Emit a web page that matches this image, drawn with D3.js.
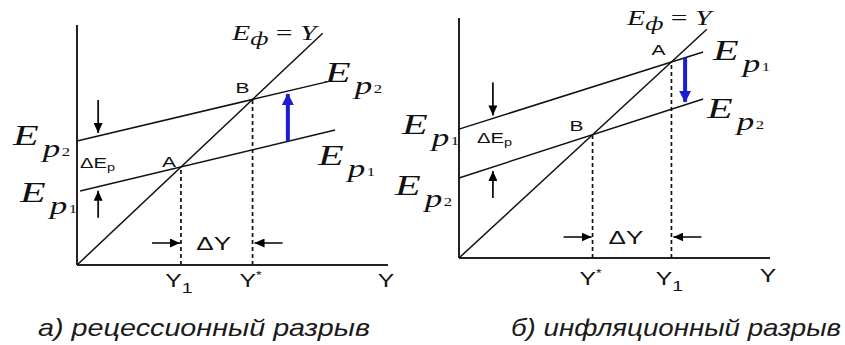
<!DOCTYPE html>
<html>
<head>
<meta charset="utf-8">
<script src="https://cdn.jsdelivr.net/npm/d3@7"></script>
<style>
  body { margin: 0; background: #fff; }
  svg { display: block; }
</style>
</head>
<body>
<div id="chart"></div>
<script>
// ---- data (model units, both axes 0..10) ----
// panel a) recessionary gap
const aDiag = [[0, 0], [7.9, 7.9]];          // E_ф = Y
const aEp1 = [[0.1, 2.52], [8.3, 4.6]];
const aEp2 = [[0, 4.23], [8.1, 6.26]];
const aBlueX = 6.78;                          // shift arrow Ep1 -> Ep2
const aSmallArrowX = 0.68;
// panel б) inflationary gap
const bDiag = [[0, 0], [7.97, 7.97]];
const bEp1 = [[0, 4.49], [7.85, 7.18]];
const bEp2 = [[0, 2.79], [7.85, 5.54]];
const bBlueX = 7.27;                          // shift arrow Ep1 -> Ep2
const bSmallArrowX = 1.09;

const captions = ["а) рецессионный разрыв", "б) инфляционный разрыв"];

const W = 845, H = 345;
const serif = "'Liberation Serif', 'Times New Roman', serif";
const sans = "'Liberation Sans', Arial, sans-serif";
const blue = "#1c1cd6";
const ink = "#111";

const svg = d3.select("#chart").append("svg")
  .attr("width", W).attr("height", H);

const defs = svg.append("defs");
defs.append("marker")
  .attr("id", "ah")
  .attr("markerUnits", "userSpaceOnUse")
  .attr("markerWidth", 10).attr("markerHeight", 9)
  .attr("refX", 10).attr("refY", 4.5)
  .attr("orient", "auto")
  .append("path").attr("d", "M0,0 L10,4.5 L0,9 Z").attr("fill", "#000");
defs.append("marker")
  .attr("id", "ahBlue")
  .attr("markerUnits", "userSpaceOnUse")
  .attr("markerWidth", 12).attr("markerHeight", 12)
  .attr("refX", 11).attr("refY", 6)
  .attr("orient", "auto")
  .append("path").attr("d", "M0,0 L12,6 L0,12 Z").attr("fill", blue);

// y value of a segment at x
function at(line, x) {
  const [[x0, y0], [x1, y1]] = line;
  return y0 + (y1 - y0) * (x - x0) / (x1 - x0);
}
// intersection of segment with E = Y
function meet(line) {
  const [[x0, y0], [x1, y1]] = line;
  const b = (y1 - y0) / (x1 - x0);
  const a = y0 - b * x0;
  const x = a / (1 - b);
  return [x, x];
}

// the source picture is stretched sideways, so text is too
function sText(g, x, y, sx) {
  return g.append("text")
    .attr("transform", `translate(${x},${y}) scale(${sx},1)`)
    .attr("fill", ink);
}

function epLabel(g, x, y, digit) {
  const t = sText(g, x, y, 1.4)
    .attr("font-family", serif).attr("font-style", "italic");
  t.append("tspan").attr("font-size", 30).text("E");
  t.append("tspan").attr("font-size", 25).attr("dx", 3).attr("dy", 12).text("p");
  t.append("tspan").attr("font-size", 12).attr("font-style", "normal").attr("dx", 1).attr("dy", -1).text(digit);
}

function drawPanel(opt) {
  const g = svg.append("g");
  const x = opt.x, y = opt.y;
  const line = d3.line().x(d => x(d[0])).y(d => y(d[1]));

  // axes
  g.append("line")
    .attr("x1", x(0)).attr("y1", y(0)).attr("x2", x(0)).attr("y2", y(opt.yTop))
    .attr("stroke", "#222").attr("stroke-width", 2);
  g.append("line")
    .attr("x1", x(0)).attr("y1", y(0)).attr("x2", x(10)).attr("y2", y(0))
    .attr("stroke", "#222").attr("stroke-width", 2);

  // curves
  [opt.diag, opt.ep1, opt.ep2].forEach(d => {
    g.append("path").attr("d", line(d))
      .attr("fill", "none").attr("stroke", ink).attr("stroke-width", 1.5);
  });

  // equilibrium points and dashed drops
  const p1 = meet(opt.ep1), p2 = meet(opt.ep2);
  [p1, p2].forEach(p => {
    g.append("line")
      .attr("x1", x(p[0])).attr("x2", x(p[0]))
      .attr("y1", y(0)).attr("y2", y(p[1]))
      .attr("stroke", ink).attr("stroke-width", 1.7)
      .attr("stroke-dasharray", "4,3");
  });

  // blue shift arrow
  const bx = opt.blueX;
  const from = at(opt.ep1, bx), to = at(opt.ep2, bx);
  const dir = Math.sign(to - from);
  g.append("line")
    .attr("x1", x(bx)).attr("x2", x(bx))
    .attr("y1", y(from)).attr("y2", y(to) + dir * 3)
    .attr("stroke", blue).attr("stroke-width", 4)
    .attr("marker-end", "url(#ahBlue)");

  // small black arrows around ΔEp
  const sx = opt.smallX;
  const hi = Math.max(at(opt.ep1, sx), at(opt.ep2, sx));
  const lo = Math.min(at(opt.ep1, sx), at(opt.ep2, sx));
  g.append("line")
    .attr("x1", x(sx)).attr("x2", x(sx))
    .attr("y1", y(hi) - 36).attr("y2", y(hi) - 3)
    .attr("stroke", ink).attr("stroke-width", 1.8).attr("marker-end", "url(#ah)");
  g.append("line")
    .attr("x1", x(sx)).attr("x2", x(sx))
    .attr("y1", y(lo) + 31).attr("y2", y(lo) + 4)
    .attr("stroke", ink).attr("stroke-width", 1.8).attr("marker-end", "url(#ah)");

  // ΔY arrows
  const xl = x(Math.min(p1[0], p2[0])), xr = x(Math.max(p1[0], p2[0]));
  const ay = y(0) - opt.dyOff;
  g.append("line").attr("x1", xl - 29).attr("x2", xl - 1).attr("y1", ay).attr("y2", ay)
    .attr("stroke", ink).attr("stroke-width", 1.6).attr("marker-end", "url(#ah)");
  g.append("line").attr("x1", xr + 30).attr("x2", xr + 2).attr("y1", ay).attr("y2", ay)
    .attr("stroke", ink).attr("stroke-width", 1.6).attr("marker-end", "url(#ah)");
  sText(g, (xl + xr) / 2 + opt.dyShift, ay + 7, 1.45)
    .attr("text-anchor", "middle").attr("font-family", sans).attr("font-size", 18)
    .text("ΔY");

  // ΔEp
  const de = sText(g, x(0) + opt.deX, opt.deY, 1.45)
    .attr("font-family", sans).attr("font-size", 14);
  de.append("tspan").text("ΔE");
  de.append("tspan").attr("font-size", 10).attr("dy", 3).text("p");

  // point letters
  opt.letters.forEach(l => {
    const p = l.p === 1 ? p1 : p2;
    sText(g, x(p[0]) + l.dx, y(p[1]) + l.dy, 1.5)
      .attr("font-family", sans).attr("font-size", 14).text(l.t);
  });

  // axis labels
  const xLab = (px, lab) => {
    const t = sText(g, px - 2, y(0) + opt.labOff, 1.3)
      .attr("text-anchor", "middle").attr("font-family", sans).attr("font-size", 19);
    t.append("tspan").text("Y");
    if (lab === "Y1") t.append("tspan").attr("font-size", 15).attr("dy", 6).text("1");
    if (lab === "Y*") t.append("tspan").attr("font-size", 11).attr("dy", -8).text("*");
  };
  xLab(x(p1[0]), opt.p1label);
  xLab(x(p2[0]), opt.p2label);
  sText(g, x(10) - 2, y(0) + opt.yLabOff, 1.3)
    .attr("text-anchor", "middle").attr("font-family", sans).attr("font-size", 19)
    .text("Y");

  // E_ф = Y
  const ef = sText(g, opt.efX, opt.efY, 1.35)
    .attr("font-family", serif).attr("font-size", 22).attr("font-style", "italic");
  ef.append("tspan").text("E");
  ef.append("tspan").attr("font-size", 19).attr("dy", 5).text("ф");
  ef.append("tspan").attr("dy", -5).attr("font-style", "normal").text(" = ");
  ef.append("tspan").text("Y");

  // Ep labels
  opt.epLabels.forEach(l => epLabel(g, l.x, l.y, l.d));

  // caption
  g.append("text").attr("x", opt.capX).attr("y", 336)
    .attr("font-family", sans).attr("font-style", "italic").attr("font-size", 24)
    .attr("textLength", opt.capW).attr("lengthAdjust", "spacingAndGlyphs")
    .attr("fill", "#1a1a1a").text(opt.caption);
}

drawPanel({
  x: d3.scaleLinear([0, 10], [77, 388]),
  y: d3.scaleLinear([0, 10], [265, 265 - 293.3]),
  yTop: 8.18,
  diag: aDiag, ep1: aEp1, ep2: aEp2,
  blueX: aBlueX, smallX: aSmallArrowX,
  dyOff: 22, dyShift: -3,
  deX: 3, deY: 168,
  letters: [{ p: 1, t: "A", dx: -19, dy: 0 }, { p: 2, t: "B", dx: -17, dy: -6 }],
  p1label: "Y1", p2label: "Y*",
  labOff: 22, yLabOff: 22,
  efX: 232, efY: 40,
  epLabels: [
    { x: 13, y: 145, d: "2" }, { x: 20, y: 202, d: "1" },
    { x: 325, y: 82, d: "2" }, { x: 318, y: 165, d: "1" }
  ],
  capX: 38, capW: 332, caption: captions[0]
});

drawPanel({
  x: d3.scaleLinear([0, 10], [459, 770]),
  y: d3.scaleLinear([0, 10], [258, 258 - 287]),
  yTop: 8.36,
  diag: bDiag, ep1: bEp1, ep2: bEp2,
  blueX: bBlueX, smallX: bSmallArrowX,
  dyOff: 21, dyShift: -6,
  deX: 18, deY: 143,
  letters: [{ p: 1, t: "A", dx: -20, dy: -7 }, { p: 2, t: "B", dx: -23, dy: -4 }],
  p1label: "Y1", p2label: "Y*",
  labOff: 27, yLabOff: 24,
  efX: 627, efY: 25,
  epLabels: [
    { x: 402, y: 134, d: "1" }, { x: 395, y: 195, d: "2" },
    { x: 713, y: 60, d: "1" }, { x: 707, y: 118, d: "2" }
  ],
  capX: 511, capW: 330, caption: captions[1]
});
</script>
</body>
</html>
